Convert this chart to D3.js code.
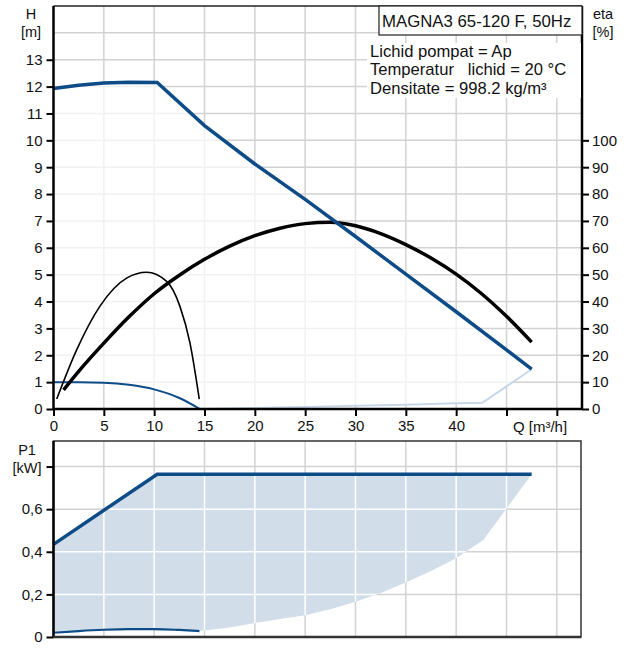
<!DOCTYPE html>
<html>
<head>
<meta charset="utf-8">
<script src="https://cdn.jsdelivr.net/npm/d3@7"></script>
<style>
  body { margin: 0; background: #fff; }
  svg text { font-family: "Liberation Sans", Arial, sans-serif; fill: #111; }
</style>
</head>
<body>
<svg id="output"></svg>
<script>
// curve data, Q in m3/h
const qTicks = [0, 5, 10, 15, 20, 25, 30, 35, 40];
const qGrid = [5, 10, 15, 20, 25, 30, 35, 40, 45, 50];
const hTicks = [0, 1, 2, 3, 4, 5, 6, 7, 8, 9, 10, 11, 12, 13];
const hGrid = [1, 2, 3, 4, 5, 6, 7, 8, 9, 10, 11, 12, 13, 14];
const etaTicks = [0, 10, 20, 30, 40, 50, 60, 70, 80, 90, 100];
const pTicks = [0, 0.2, 0.4, 0.6, 0.8];
const pLabels = ["0", "0,2", "0,4", "0,6", ""];

const hMax = [[0, 11.93], [2.5, 12.05], [5, 12.13], [7.5, 12.16], [10.3, 12.15], [15, 10.55], [20, 9.12],
  [25, 7.8], [30, 6.42], [35, 5.02], [40, 3.62], [45, 2.2], [47.5, 1.48]];
const hMin = [[0, 1.0], [2.5, 1.0], [5, 0.98], [7.5, 0.9], [10, 0.73], [12.5, 0.41], [14.55, 0]];
const hLow = [[14.55, 0], [20, 0.04], [25, 0.07], [30, 0.12], [35, 0.16], [40, 0.21], [42.6, 0.23], [47.5, 1.48]];

const etaMax = [[1.0, 7.1], [2.5, 14.0], [5, 24.5], [7.5, 34.3], [10, 42.9], [12.5, 49.8], [15, 55.7], [17.5, 60.6],
  [20, 64.5], [22.5, 67.3], [25, 69.0], [27.5, 69.5], [30, 68.2], [32.5, 65.3], [35, 61.2], [37.5, 56.2],
  [40, 50.2], [42.5, 43.0], [45, 34.5], [47.5, 24.9]];
const etaMin = [[0.32, 3.7], [2.3, 22], [4.6, 38.2], [7.3, 48.8], [9.25, 50.9], [11.24, 47.5], [12.56, 38.2],
  [13.56, 24.5], [14.48, 3.7]];

const p1Max = [[0, 0.435], [10.3, 0.764], [47.5, 0.764]];
const p1Min = [[0, 0.02], [2.5, 0.028], [5, 0.034], [7.5, 0.037], [10, 0.037], [12.5, 0.033], [14.5, 0.028]];
const p1Low = [[14.5, 0.028], [17.5, 0.045], [20, 0.066], [22.5, 0.084], [25, 0.102], [27.5, 0.13], [30, 0.165],
  [32.5, 0.207], [35, 0.256], [37.5, 0.31], [40, 0.37], [42.7, 0.455], [47.5, 0.764]];

const infoTitle = "MAGNA3 65-120 F, 50Hz";
const infoLines = ["Lichid pompat = Ap", "Temperatur   lichid = 20 °C", "Densitate = 998.2 kg/m³"];

const width = 629, height = 657;
const svg = d3.select("#output").attr("width", width).attr("height", height);

const x = d3.scaleLinear().domain([0, 52.5]).range([53.5, 582]);
const yH = d3.scaleLinear().domain([0, 15]).range([409, 6]);
const yEta = d3.scaleLinear().domain([0, 150]).range([409, 6]);
const yP = d3.scaleLinear().domain([0, 0.92]).range([637, 441]);

const blue = "#0d4c87", lightBlue = "#c6d7e9", gridC = "#d2d2d2";
const fs = 15;

const lineH = d3.line().x(d => x(d[0])).y(d => yH(d[1]));
const smoothH = d3.line().x(d => x(d[0])).y(d => yH(d[1])).curve(d3.curveMonotoneX);
const smoothEta = d3.line().x(d => x(d[0])).y(d => yEta(d[1])).curve(d3.curveMonotoneX);
const lineP = d3.line().x(d => x(d[0])).y(d => yP(d[1]));
const smoothP = d3.line().x(d => x(d[0])).y(d => yP(d[1])).curve(d3.curveMonotoneX);

function joinPaths(parts){
  // first piece keeps its M, the rest continue with L
  return parts.map((p, i) => i === 0 ? p : p.replace(/^M/, "L")).join("") + "Z";
}

function grid(g, yScale, yVals, x0, x1, y0, y1, color){
  g.selectAll(".vg").data(qGrid).enter().append("line")
    .attr("x1", d => x(d)).attr("x2", d => x(d)).attr("y1", y0).attr("y2", y1)
    .attr("stroke", color).attr("stroke-width", 1.5);
  g.selectAll(".hg").data(yVals).enter().append("line")
    .attr("x1", x0).attr("x2", x1).attr("y1", d => yScale(d)).attr("y2", d => yScale(d))
    .attr("stroke", color).attr("stroke-width", 1.5);
}

// ---------- top chart: H and eta ----------
const topG = svg.append("g");
grid(topG, yH, hGrid, x(0), x(52.5), yH(15), yH(0), gridC);

const regionH = joinPaths([lineH(hMax), lineH(hLow.slice().reverse()), smoothH(hMin.slice().reverse())]);
topG.append("clipPath").attr("id", "clipH").append("path").attr("d", regionH);
topG.append("path").attr("d", regionH).attr("fill", "#fff");
const gIn = topG.append("g").attr("clip-path", "url(#clipH)");
grid(gIn, yH, hGrid, x(0), x(52.5), yH(15), yH(0), "#f1f1f1");

topG.append("path").attr("d", lineH(hLow)).attr("fill", "none").attr("stroke", lightBlue).attr("stroke-width", 2);
topG.append("path").attr("d", smoothH(hMin)).attr("fill", "none").attr("stroke", blue).attr("stroke-width", 2);
topG.append("path").attr("d", smoothEta(etaMin)).attr("fill", "none").attr("stroke", "#000").attr("stroke-width", 1.6);
topG.append("path").attr("d", smoothEta(etaMax)).attr("fill", "none").attr("stroke", "#000").attr("stroke-width", 3.5);
topG.append("path").attr("d", lineH(hMax)).attr("fill", "none").attr("stroke", blue).attr("stroke-width", 3.5);

// frame
topG.append("line").attr("x1", x(0)).attr("x2", x(52.5)).attr("y1", yH(15)).attr("y2", yH(15))
  .attr("stroke", "#222").attr("stroke-width", 1.5);

const axL = topG.append("g").attr("transform", `translate(${x(0)},0)`)
  .call(d3.axisLeft(yH).tickValues(hTicks).tickSize(7).tickPadding(4));
const axR = topG.append("g").attr("transform", `translate(${x(52.5)},0)`)
  .call(d3.axisRight(yEta).tickValues(etaTicks).tickSize(7).tickPadding(3));
const axB = topG.append("g").attr("transform", `translate(0,${yH(0)})`)
  .call(d3.axisBottom(x).tickValues(qGrid.concat([0])).tickSize(7).tickPadding(4)
    .tickFormat(d => qTicks.includes(d) ? d : ""));
[axL, axR, axB].forEach(a => {
  a.select(".domain").attr("stroke", "#000").attr("stroke-width", 2.5);
  a.selectAll(".tick line").attr("stroke", "#000").attr("stroke-width", 2);
  a.selectAll(".tick text").attr("font-size", fs).attr("fill", "#111")
    .attr("font-family", "Liberation Sans, Arial, sans-serif");
});
axL.select(".domain").attr("d", `M0,${yH(0)}V${yH(15)}`);
axR.select(".domain").attr("d", `M0,${yH(0)}V${yH(15)}`);
axB.select(".domain").attr("d", `M${x(0)},0H${x(52.5)}`);

topG.append("text").attr("x", 31).attr("y", 19).attr("text-anchor", "middle").attr("font-size", 14.5).text("H");
topG.append("text").attr("x", 31).attr("y", 37).attr("text-anchor", "middle").attr("font-size", 14.5).text("[m]");
topG.append("text").attr("x", 603).attr("y", 19).attr("text-anchor", "middle").attr("font-size", 14.5).text("eta");
topG.append("text").attr("x", 603).attr("y", 37).attr("text-anchor", "middle").attr("font-size", 14.5).text("[%]");
topG.append("text").attr("x", 540).attr("y", 432).attr("text-anchor", "middle").attr("font-size", fs).text("Q [m³/h]");

// info box
topG.append("rect").attr("x", 367).attr("y", 43).attr("width", x(52.5) - 368).attr("height", 55).attr("fill", "#fff");
topG.append("rect").attr("x", 379).attr("y", yH(15)).attr("width", x(52.5) - 379).attr("height", 29)
  .attr("fill", "#fff").attr("stroke", "#222").attr("stroke-width", 1.2);
topG.append("text").attr("x", 382).attr("y", 27).attr("font-size", 16.8).text(infoTitle);
topG.selectAll(".info").data(infoLines).enter().append("text")
  .attr("x", 370).attr("y", (d, i) => 57 + i * 18.3).attr("font-size", 16.6)
  .style("white-space", "pre").text(d => d);

// ---------- bottom chart: P1 ----------
const botG = svg.append("g");
grid(botG, yP, pTicks.slice(1), x(0), x(52.5), yP(0.92), yP(0), gridC);

const regionP = joinPaths([lineP(p1Max), lineP(p1Low.slice().reverse()), smoothP(p1Min.slice().reverse())]);
botG.append("clipPath").attr("id", "clipP").append("path").attr("d", regionP);
botG.append("path").attr("d", regionP).attr("fill", "#d1dde9");
const pIn = botG.append("g").attr("clip-path", "url(#clipP)");
grid(pIn, yP, pTicks.slice(1), x(0), x(52.5), yP(0.92), yP(0), "#fff");

botG.append("path").attr("d", smoothP(p1Min)).attr("fill", "none").attr("stroke", blue).attr("stroke-width", 2.2);
botG.append("path").attr("d", lineP(p1Max)).attr("fill", "none").attr("stroke", blue).attr("stroke-width", 3.5);

botG.append("rect").attr("x", x(0)).attr("y", yP(0.92)).attr("width", x(52.5) - x(0) - 1).attr("height", yP(0) - yP(0.92))
  .attr("fill", "none").attr("stroke", "#333").attr("stroke-width", 1.5);
const axP = botG.append("g").attr("transform", `translate(${x(0)},0)`)
  .call(d3.axisLeft(yP).tickValues(pTicks).tickSize(7).tickPadding(4).tickFormat((d, i) => pLabels[i]));
axP.select(".domain").attr("d", `M0,${yP(0)}V${yP(0.92)}`).attr("stroke", "#000").attr("stroke-width", 2.5);
axP.selectAll(".tick line").attr("stroke", "#000").attr("stroke-width", 2);
axP.selectAll(".tick text").attr("font-size", fs).attr("fill", "#111")
  .attr("font-family", "Liberation Sans, Arial, sans-serif");
botG.append("line").attr("x1", x(0)).attr("x2", x(52.5) - 1).attr("y1", yP(0)).attr("y2", yP(0))
  .attr("stroke", "#333").attr("stroke-width", 2.5);

botG.append("text").attr("x", 27).attr("y", 455).attr("text-anchor", "middle").attr("font-size", 14.5).text("P1");
botG.append("text").attr("x", 27).attr("y", 473).attr("text-anchor", "middle").attr("font-size", 14.5).text("[kW]");
</script>
</body>
</html>
